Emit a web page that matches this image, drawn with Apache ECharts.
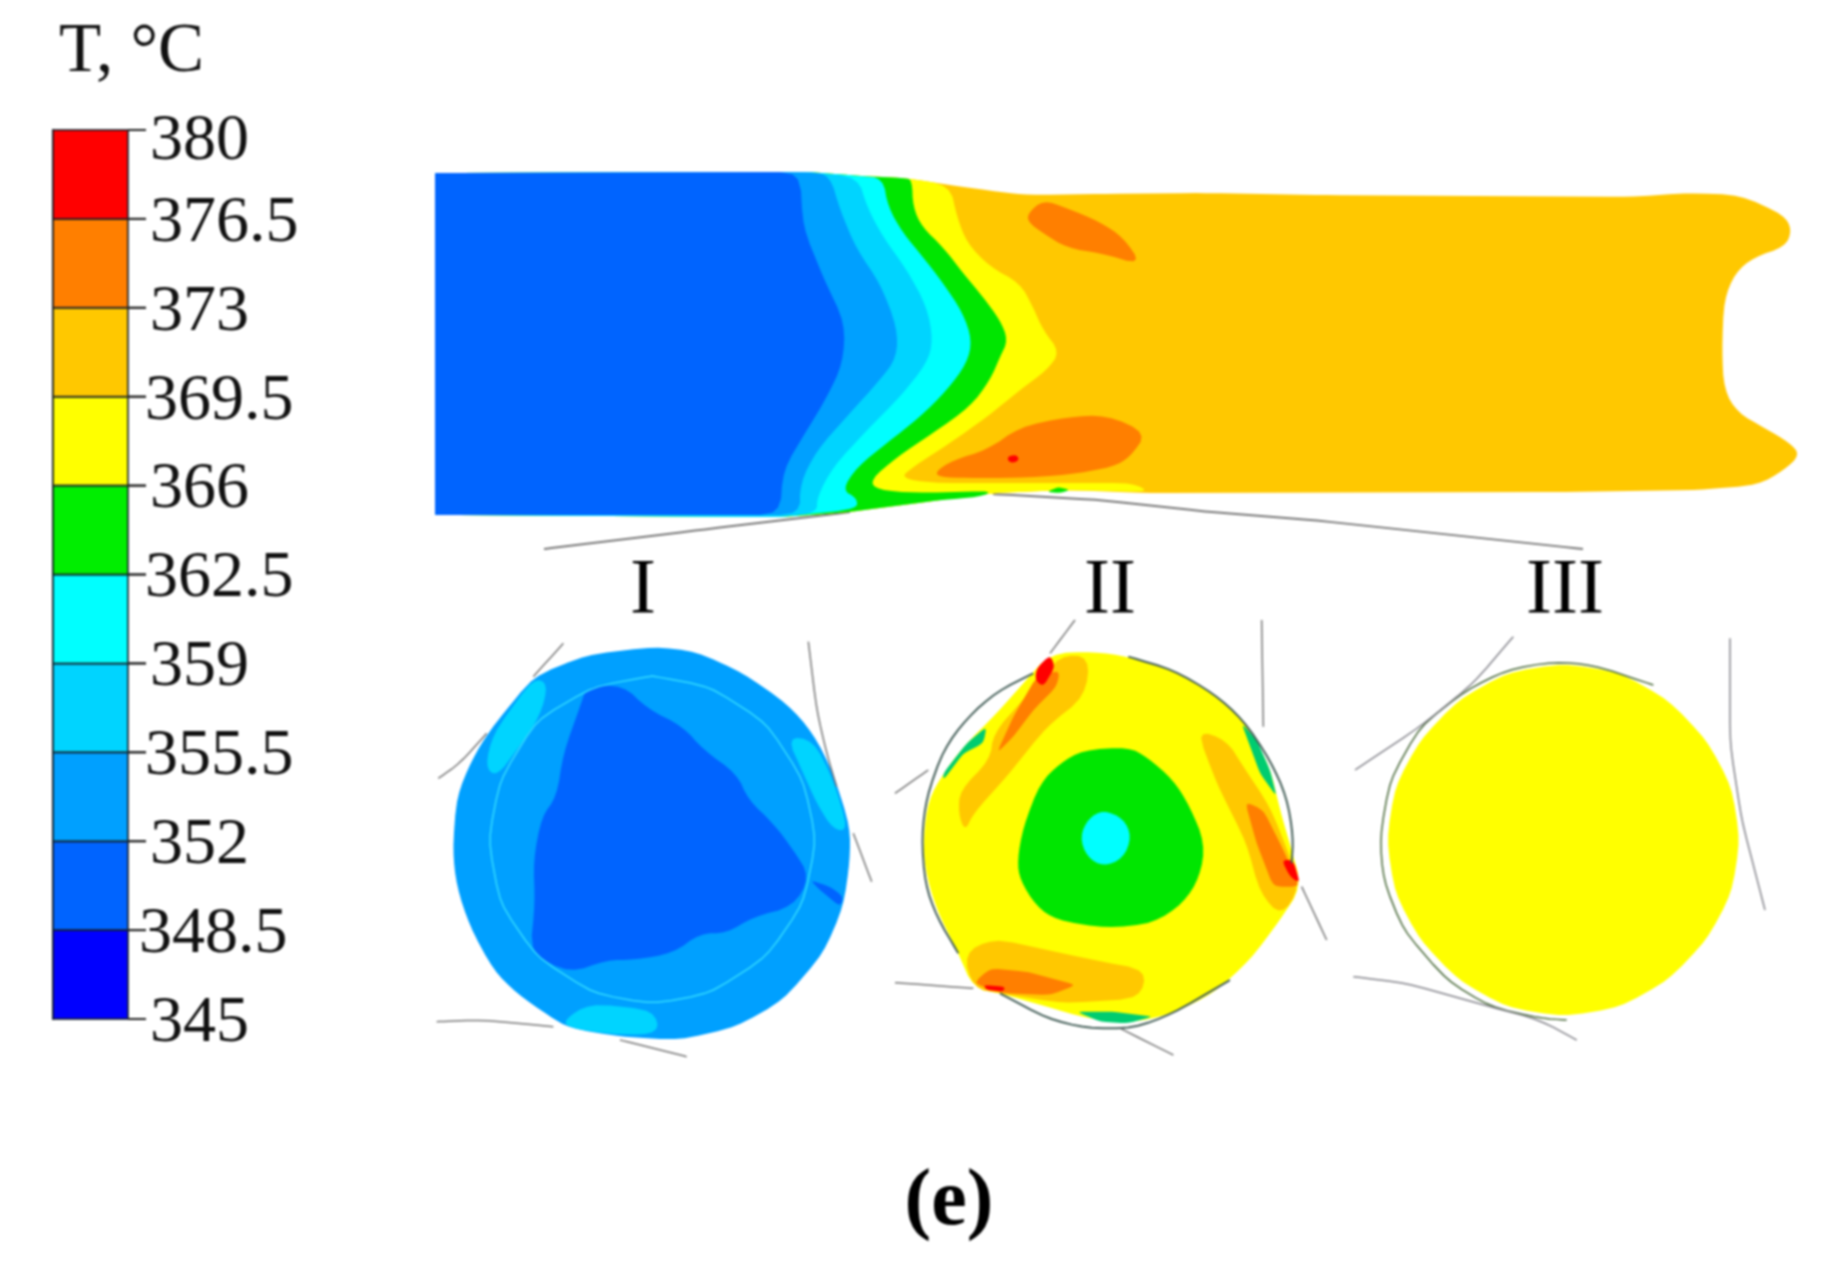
<!DOCTYPE html>
<html>
<head>
<meta charset="utf-8">
<title>T contour</title>
<script src="https://cdn.jsdelivr.net/npm/echarts@6/dist/echarts.min.js"></script>
<style>
  html, body { margin: 0; padding: 0; background: #fff; }
  #chart { width: 1822px; height: 1273px; filter: blur(0.9px); }
</style>
</head>
<body>
<div id="chart"></div>
<script>
// colour scale
const levels = [345, 348.5, 352, 355.5, 359, 362.5, 366, 369.5, 373, 376.5, 380]
const bandColors = ['#0000ff', '#0064ff', '#00a0ff', '#00d4ff', '#00ffff', '#00ee00', '#ffff00', '#ffc800', '#ff7f00', '#ff0000']
const unitLabel = 'T, °C'
const figureLabel = '(e)'
const sectionNames = ['I', 'II', 'III']

// longitudinal section, image units
const bodyOutline = [[435,176],[435,173],[438,173],[810,172],[860,176],[905,178],[950,185],[1000,192],[1030,195],[1100,194],[1201,193],[1321,195],[1629,197],[1689,193],[1740,195],[1784,215],[1792,230],[1785,247],[1754,257],[1735,273],[1724,300],[1722,350],[1724,390],[1738,413],[1763,427],[1790,443],[1800,455],[1784,470],[1758,485],[1698,490],[1560,492],[1146,493],[1067,490],[993,493],[940,500],[850,512],[783,517],[438,515],[435,515],[435,512]]
const bodyBand366 = [[435,176],[435,173],[438,173],[810,172],[860,176],[905,178],[950,185],[957,217],[967,243],[990,267],[1020,283],[1033,307],[1043,330],[1060,352],[1047,370],[1020,390],[987,417],[950,443],[913,467],[900,478],[933,483],[1033,483],[1133,483],[1150,492],[1067,490],[993,493],[940,500],[850,512],[783,517],[438,515],[435,515],[435,512]]
const bodyBand3625 = [[435,176],[435,173],[438,173],[810,172],[860,176],[905,178],[912,180],[913,207],[922,227],[943,247],[963,273],[983,297],[1000,320],[1008,340],[1000,357],[990,380],[970,407],[933,433],[897,457],[870,480],[877,490],[917,493],[993,491],[980,497],[940,500],[850,512],[783,517],[438,515],[435,515],[435,512]]
const bodyBand359 = [[435,176],[435,173],[438,173],[810,172],[860,176],[883,178],[888,207],[903,233],[923,257],[943,283],[963,313],[972,340],[967,363],[947,390],[920,417],[887,443],[857,467],[842,490],[857,498],[857,509],[783,517],[438,515],[435,515],[435,512]]
const bodyBand3555 = [[435,176],[435,173],[438,173],[810,172],[858,177],[867,207],[883,237],[907,270],[927,307],[933,340],[927,363],[900,397],[867,430],[833,467],[817,497],[817,513],[783,517],[438,515],[435,515],[435,512]]
const bodyBand352 = [[435,176],[435,173],[438,173],[810,172],[830,175],[840,210],[857,250],[880,283],[897,327],[897,357],[880,380],[850,413],[817,450],[800,483],[800,515],[438,515],[435,515],[435,512]]
const bodyBand3485 = [[435,176],[435,173],[438,173],[800,172],[803,227],[823,277],[845,323],[843,363],[827,397],[807,430],[783,470],[780,515],[438,515],[435,515],[435,512]]
const bodyHotUpper = [[1028,213],[1043,200],[1067,208],[1100,222],[1123,237],[1142,265],[1100,253],[1067,248],[1043,233],[1028,222]]
const bodyHotLower = [[935,472],[953,460],[987,450],[1020,427],[1067,417],[1107,415],[1147,433],[1130,457],[1113,467],[1067,475],[1017,478],[967,478],[940,477]]
const bodyHotSpot = [[1008,456],[1017,455],[1019,460],[1013,463],[1008,461]]
const bodyGreenBit = [[1047,492],[1058,487],[1070,490],[1060,493]]
const toolLineLower = [[544,549],[700,530],[850,512]]
const toolLineUpper = [[993,494],[1100,500],[1210,512],[1312,520],[1583,549]]

// section I, crop units
const s1Outline = [[700,80],[830,95],[970,160],[1100,250],[1180,340],[1240,460],[1290,620],[1290,720],[1270,860],[1210,1000],[1090,1140],[950,1220],[780,1260],[600,1250],[450,1225],[390,1190],[290,1120],[220,1050],[150,920],[110,800],[98,690],[110,530],[155,420],[210,330],[340,170],[500,105]]
const s1Core = [[500,200],[610,195],[680,265],[790,320],[850,390],[950,460],[985,540],[1060,610],[1120,690],[1170,770],[1120,860],[1000,890],[920,940],[840,940],[760,1000],[640,1020],[560,1020],[450,1060],[330,1000],[345,850],[340,720],[365,590],[410,530],[430,400],[480,260]]
const s1WarmA = [[340,175],[385,190],[360,290],[290,390],[230,470],[195,440],[220,340]]
const s1WarmB = [[1100,350],[1180,360],[1240,480],[1285,630],[1240,630],[1190,550],[1150,460]]
const s1WarmC = [[430,1200],[510,1150],[700,1170],[720,1240],[600,1245],[450,1225]]
const s1Cold = [[1170,780],[1230,800],[1270,830],[1260,860],[1200,810]]
const s1Ring = [[697,168],[870,200],[1040,310],[1150,480],[1189,660],[1150,850],[1040,1010],[870,1120],[697,1152],[520,1120],[350,1010],[240,850],[205,660],[240,480],[350,300],[520,200]]
const s1Tools = [
  [[55,475],[120,430],[200,340]],
  [[340,170],[430,70]],
  [[1165,65],[1190,270],[1220,400],[1250,500]],
  [[1300,640],[1355,785]],
  [[50,1205],[190,1200],[400,1220]],
  [[600,1260],[800,1310]]
]

// section II, crop units
const s2Outline = [[510,130],[640,125],[745,140],[880,180],[1000,250],[1090,330],[1170,470],[1200,600],[1235,720],[1265,830],[1200,930],[1110,1050],[1000,1150],[880,1210],[750,1240],[620,1225],[500,1190],[360,1150],[280,1135],[235,1030],[170,900],[135,780],[130,680],[145,570],[190,490],[250,410],[350,310],[430,220]]
const s2Core = [[610,420],[745,412],[800,440],[880,510],[930,590],[975,700],[960,800],[910,880],[820,940],[680,955],[530,930],[470,890],[420,810],[412,750],[430,650],[480,520],[540,460]]
const s2Center = [[670,600],[730,625],[755,680],[730,745],[670,770],[620,740],[600,680],[625,625]]
const s2AmberA = [[540,135],[630,140],[615,260],[500,350],[380,500],[280,610],[255,665],[235,610],[240,540],[330,450],[340,370],[420,280]]
const s2OrangeA = [[470,200],[540,180],[530,230],[460,300],[400,380],[350,430],[400,320]]
const s2RedA = [[510,135],[525,170],[490,230],[465,210],[470,175]]
const s2AmberB = [[950,360],[1040,390],[1090,470],[1170,590],[1230,740],[1260,830],[1205,920],[1140,850],[1100,700],[1010,520]]
const s2OrangeB = [[1095,575],[1150,600],[1210,720],[1260,830],[1180,830],[1130,700]]
const s2RedB = [[1205,750],[1240,750],[1260,820],[1230,800]]
const s2AmberC = [[250,1030],[340,985],[640,1050],[800,1080],[780,1165],[550,1180],[360,1150],[280,1135]]
const s2OrangeC = [[280,1120],[330,1075],[440,1085],[590,1125],[510,1155],[370,1150]]
const s2RedC = [[310,1125],[375,1130],[370,1145],[320,1140]]
const s2EdgeA = [[190,490],[260,400],[320,350],[310,400],[250,430],[190,510]]
const s2EdgeB = [[1085,340],[1130,390],[1170,480],[1190,560],[1140,490]]
const s2EdgeC = [[590,1205],[700,1205],[820,1220],[740,1240],[660,1235]]
const s2Rolls = [
  [[745,140],[880,180],[1000,250],[1090,330],[1170,450],[1220,560],[1240,680],[1235,760]],
  [[460,190],[350,245],[260,325],[190,420],[140,560],[125,680],[135,820],[170,920],[235,1030]],
  [[360,1150],[500,1225],[620,1255],[760,1255],[880,1210],[1050,1110]]
]
const s2Tools = [
  [[45,550],[145,480]],
  [[510,130],[585,30]],
  [[1145,30],[1150,350]],
  [[1265,830],[1340,990]],
  [[45,1118],[280,1135]],
  [[720,1255],[880,1335]]
]

// section III, crop units
const s3Disc = [[670,160],[840,188],[985,270],[1100,390],[1175,530],[1200,690],[1175,850],[1100,990],[985,1110],[840,1192],[670,1220],[500,1192],[355,1110],[240,990],[165,850],[140,690],[165,530],[240,390],[355,270],[500,188]]
const s3Roll = [[940,225],[760,165],[640,155],[500,180],[380,240],[240,350],[150,510],[120,680],[130,810],[190,960],[320,1110],[450,1190],[600,1225],[680,1230]]
const s3Tools = [
  [[45,480],[240,350],[400,220],[520,80]],
  [[1170,85],[1170,400],[1205,630],[1275,900]],
  [[40,1100],[200,1120],[450,1190],[600,1230],[710,1290]]
]

const c = {
  c3485: bandColors[1], c352: bandColors[2], c3555: bandColors[3], c359: bandColors[4],
  green: '#00e600', yellow: bandColors[6], amber: bandColors[7], orange: bandColors[8], red: bandColors[9]
}
const edgeGreen = '#00cc70'

// round the corners of a drawn outline, short edges keep their corner
function soften (pts, closed, cut) {
  let out = pts
  for (let k = 0; k < 2; k++) {
    const next = []
    const n = closed ? out.length : out.length - 1
    if (!closed) next.push(out[0])
    for (let i = 0; i < n; i++) {
      const a = out[i]
      const b = out[(i + 1) % out.length]
      const t = Math.min(0.25, cut / (Math.hypot(b[0] - a[0], b[1] - a[1]) || 1))
      next.push([a[0] + (b[0] - a[0]) * t, a[1] + (b[1] - a[1]) * t])
      next.push([b[0] - (b[0] - a[0]) * t, b[1] - (b[1] - a[1]) * t])
    }
    if (!closed) next.push(out[out.length - 1])
    out = next
  }
  return out
}

// polygon through the axes of one grid
function area (points, color, axisIndex, cut) {
  return {
    type: 'custom',
    coordinateSystem: 'cartesian2d',
    xAxisIndex: axisIndex,
    yAxisIndex: axisIndex,
    silent: true,
    data: points,
    renderItem (params, api) {
      if (params.dataIndex > 0) return null
      return {
        type: 'polygon',
        shape: { points: soften(points.map(p => api.coord(p)), true, cut || 10) },
        style: { fill: color }
      }
    }
  }
}

function line (points, color, width, axisIndex) {
  return {
    type: 'custom',
    coordinateSystem: 'cartesian2d',
    xAxisIndex: axisIndex,
    yAxisIndex: axisIndex,
    silent: true,
    data: points,
    renderItem (params, api) {
      if (params.dataIndex > 0) return null
      return {
        type: 'polyline',
        shape: { points: soften(points.map(p => api.coord(p)), false, 10) },
        style: { stroke: color, lineWidth: width, fill: null }
      }
    }
  }
}

// grid 0 = whole image, 1 = colour bar, 2..4 = sections
const fullGrid = { left: 0, top: 0, width: 1822, height: 1273 }
const grids = [
  fullGrid,
  { left: 53, top: 130, width: 75, height: 889 },
  { left: 420, top: 620, width: 480, height: 460 },
  { left: 880, top: 610, width: 480, height: 460 },
  { left: 1340, top: 610, width: 482, height: 460 }
]
const hiddenX = (i, max) => ({ type: 'value', gridIndex: i, min: 0, max, show: false })
const hiddenY = (i, max) => ({ type: 'value', gridIndex: i, min: 0, max, inverse: true, show: false })

function tickStyle (value) {
  if (value === 380) return 'top'
  if (value === 348.5) return 'far'
  if (value === 376.5) return 'near'
  return String(value).length > 3 ? 'mid' : 'near'
}

const colorBar = {
  type: 'custom',
  coordinateSystem: 'cartesian2d',
  xAxisIndex: 1,
  yAxisIndex: 1,
  silent: true,
  data: bandColors.map((color, i) => [0, levels[i], 1, levels[i + 1]]),
  renderItem (params, api) {
    const a = api.coord([api.value(0), api.value(1)])
    const b = api.coord([api.value(2), api.value(3)])
    const tick = y => ({
      type: 'line',
      shape: { x1: b[0], y1: y, x2: b[0] + 18, y2: y },
      style: { stroke: '#222', lineWidth: 2 }
    })
    return {
      type: 'group',
      children: [
        {
          type: 'rect',
          shape: { x: a[0], y: b[1], width: b[0] - a[0], height: a[1] - b[1] },
          style: { fill: bandColors[params.dataIndex], stroke: 'rgba(20,30,40,0.8)', lineWidth: 2 }
        },
        tick(a[1]),
        tick(b[1])
      ]
    }
  }
}

const series = [
  line(toolLineLower, '#777', 2, 0),
  line(toolLineUpper, '#777', 2, 0),
  area(bodyOutline, c.amber, 0),
  area(bodyBand366, c.yellow, 0),
  area(bodyBand3625, c.green, 0),
  area(bodyBand359, c.c359, 0),
  area(bodyBand3555, c.c3555, 0),
  area(bodyBand352, c.c352, 0),
  area(bodyBand3485, c.c3485, 0),
  area(bodyHotUpper, c.orange, 0),
  area(bodyHotLower, c.orange, 0),
  area(bodyHotSpot, c.red, 0, 2),
  area(bodyGreenBit, c.green, 0, 2),
  colorBar,

  area(s1Outline, c.c352, 2),
  area(s1Core, c.c3485, 2),
  area(s1WarmA, c.c3555, 2),
  area(s1WarmB, c.c3555, 2),
  area(s1WarmC, c.c3555, 2),
  area(s1Cold, c.c3485, 2, 3),
  line(s1Ring.concat([s1Ring[0]]), '#33dcff', 1.5, 2),

  area(s2Outline, c.yellow, 3),
  area(s2AmberA, c.amber, 3),
  area(s2OrangeA, c.orange, 3, 4),
  area(s2AmberB, c.amber, 3),
  area(s2OrangeB, c.orange, 3, 4),
  area(s2AmberC, c.amber, 3),
  area(s2OrangeC, c.orange, 3, 4),
  area(s2RedA, c.red, 3, 3),
  area(s2RedB, c.red, 3, 3),
  area(s2RedC, c.red, 3, 3),
  area(s2EdgeA, edgeGreen, 3, 3),
  area(s2EdgeB, edgeGreen, 3, 3),
  area(s2EdgeC, edgeGreen, 3, 3),
  area(s2Core, c.green, 3),
  area(s2Center, c.c359, 3),

  area(s3Disc, c.yellow, 4),
  line(s3Roll, '#4a6a3a', 1.5, 4)
]
s1Tools.forEach(p => series.push(line(p, '#777', 1.5, 2)))
s2Rolls.forEach(p => series.push(line(p, '#46605a', 2, 3)))
s2Tools.forEach(p => series.push(line(p, '#777', 1.5, 3)))
s3Tools.forEach(p => series.push(line(p, '#85858c', 1.5, 4)))

const serif = '"Liberation Serif", serif'
const nameLeft = [638, 1105, 1560]
const titles = sectionNames.map((name, i) => ({
  text: name,
  left: nameLeft[i],
  top: 548,
  textAlign: 'center',
  textStyle: { fontFamily: serif, fontSize: 78, fontWeight: 'normal', color: '#000' }
}))
titles.push({
  text: unitLabel, left: 54, top: 13,
  textStyle: { fontFamily: serif, fontSize: 69, fontWeight: 'normal', color: '#111' }
})
titles.push({
  text: figureLabel, left: 944, top: 1158, textAlign: 'center',
  textStyle: { fontFamily: serif, fontSize: 80, fontWeight: 'bold', color: '#000' }
})

const labelBase = { fontFamily: serif, fontSize: 66, color: '#111' }
const chart = echarts.init(document.getElementById('chart'))
chart.setOption({
  backgroundColor: '#fff',
  animation: false,
  title: titles,
  grid: grids,
  xAxis: [
    hiddenX(0, 1822),
    hiddenX(1, 1),
    hiddenX(2, 1440),
    hiddenX(3, 1440),
    hiddenX(4, 1446)
  ],
  yAxis: [
    hiddenY(0, 1273),
    {
      type: 'value',
      gridIndex: 1,
      min: levels[0],
      max: levels[levels.length - 1],
      position: 'right',
      splitLine: { show: false },
      axisLine: { show: true, lineStyle: { color: '#222', width: 2 } },
      axisTick: { show: false },
      axisLabel: {
        show: true,
        customValues: levels,
        margin: 3,
        hideOverlap: false,
        showMinLabel: true,
        showMaxLabel: true,
        formatter: v => `{${tickStyle(v)}|${v}}`,
        rich: {
          top: { ...labelBase, padding: [24, 0, 0, 19] },
          near: { ...labelBase, padding: [9, 0, 0, 19] },
          mid: { ...labelBase, padding: [9, 0, 0, 14] },
          far: { ...labelBase, padding: [9, 0, 0, 8] }
        }
      }
    },
    hiddenY(2, 1380),
    hiddenY(3, 1380),
    hiddenY(4, 1380)
  ],
  series
})
</script>
</body>
</html>
